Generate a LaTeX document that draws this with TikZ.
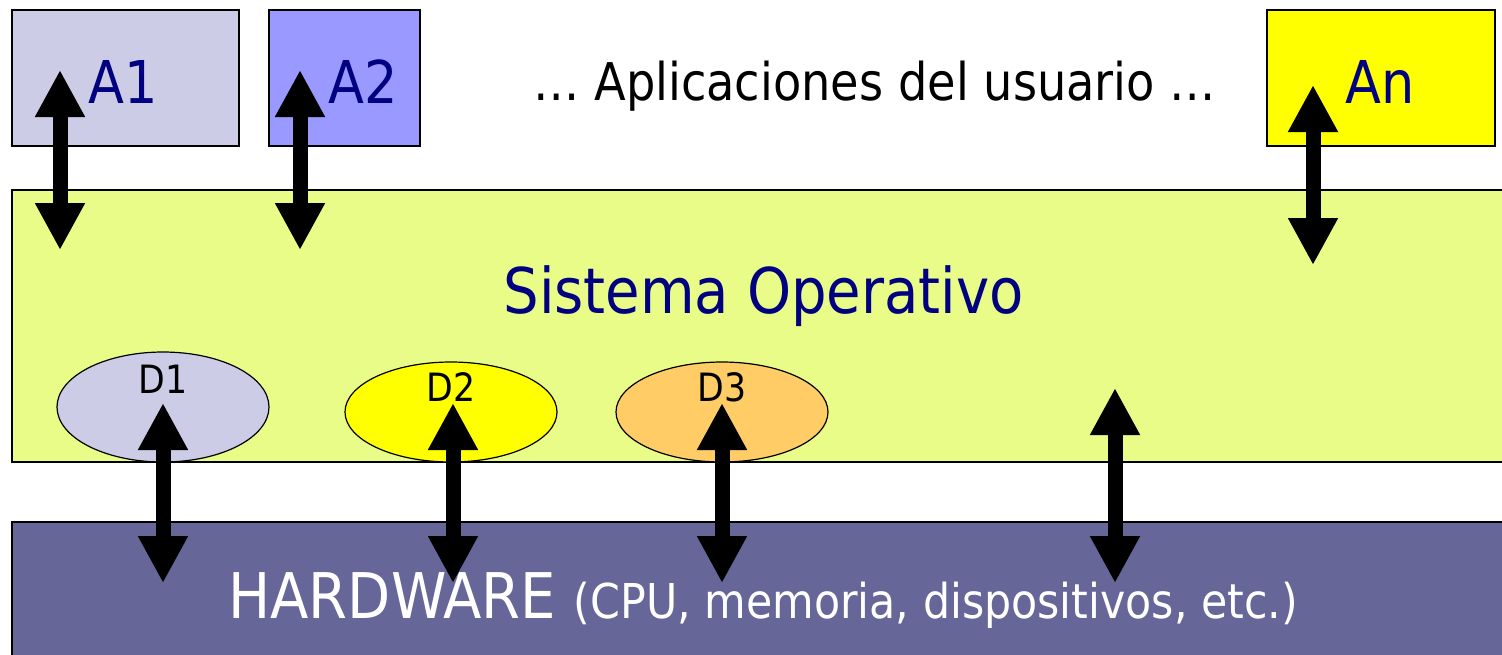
\documentclass[tikz,border=0pt]{standalone}
\usepackage{fontspec}
\setmainfont{DejaVu Sans}[FakeStretch=0.89]
\usetikzlibrary{arrows.meta}
\definecolor{navyc}{HTML}{000080}
\definecolor{aonec}{HTML}{CCCCE6}
\definecolor{atwoc}{HTML}{9999FF}
\definecolor{anc}{HTML}{FFFF00}
\definecolor{osc}{HTML}{EAFC88}
\definecolor{hwc}{HTML}{666699}
\definecolor{dthreec}{HTML}{FFCC66}
\tikzset{
  box/.style={draw=black, line width=0.75pt},
  dev/.style={draw=black, line width=0.6pt},
  dbl/.style={line width=7.5pt, {Triangle[width=23.5pt,length=23.5pt]}-{Triangle[width=23.5pt,length=23.5pt]}, shorten <=0pt, shorten >=0pt},
  atext/.style={anchor=base west, inner sep=0pt, text=navyc, font=\fontsize{29.5}{31}\selectfont},
  dtext/.style={anchor=base, inner sep=0pt, font=\fontsize{19.5}{21}\selectfont}
}
\begin{document}
\begin{tikzpicture}[x=0.5pt,y=-0.5pt]
\useasboundingbox (0,0) rectangle (1502,654);
\fill[white] (0,0) rectangle (1502,654);
% application boxes
\draw[box, fill=aonec] (12,10) rectangle (239,146);
\draw[box, fill=atwoc] (269,10) rectangle (420,146);
\draw[box, fill=anc] (1267,10) rectangle (1495,146);
\node[atext] (a1) at (88,103) {A1};
\node[atext] (a2) at (328,103) {A2};
\node[atext] (an) at (1345,103) {An};
\node[anchor=base west, inner sep=0pt, font=\fontsize{26}{28}\selectfont] (apps) at (533,100) {… Aplicaciones del usuario …};
% operating system
\draw[box, fill=osc] (12,190) rectangle (1510,462);
\node[anchor=base west, inner sep=0pt, text=navyc, font=\fontsize{31.5}{33}\selectfont] (so) at (503,313) {Sistema Operativo};
% hardware
\draw[box, fill=hwc] (12,522) rectangle (1510,670);
\node[anchor=base west, inner sep=0pt, text=white, font=\fontsize{31.5}{33}\selectfont] (hw) at (228,618) {HARDWARE {\fontsize{24}{26}\selectfont(CPU, memoria, dispositivos, etc.)}};
% drivers
\draw[dev, fill=aonec] (163,407) ellipse [x radius=106, y radius=55];
\draw[dev, fill=anc] (451,412) ellipse [x radius=106, y radius=50];
\draw[dev, fill=dthreec] (722,412) ellipse [x radius=106, y radius=50];
\node[dtext] (d1) at (163,393) {D1};
\node[dtext] (d2) at (451,401) {D2};
\node[dtext] (d3) at (722,401) {D3};
% arrow end points
\coordinate (a1t) at (60,70);   \coordinate (a1b) at (60,250);
\coordinate (a2t) at (300,70);  \coordinate (a2b) at (300,250);
\coordinate (ant) at (1313,85); \coordinate (anb) at (1313,265);
\coordinate (d1t) at (163,403); \coordinate (d1b) at (163,583);
\coordinate (d2t) at (453,403); \coordinate (d2b) at (453,583);
\coordinate (d3t) at (722,403); \coordinate (d3b) at (722,583);
\coordinate (ost) at (1115,388); \coordinate (osb) at (1115,583);
\draw[dbl] (a1t) -- (a1b);
\draw[dbl] (a2t) -- (a2b);
\draw[dbl] (ant) -- (anb);
\draw[dbl] (d1t) -- (d1b);
\draw[dbl] (d2t) -- (d2b);
\draw[dbl] (d3t) -- (d3b);
\draw[dbl] (ost) -- (osb);
\end{tikzpicture}
\end{document}
